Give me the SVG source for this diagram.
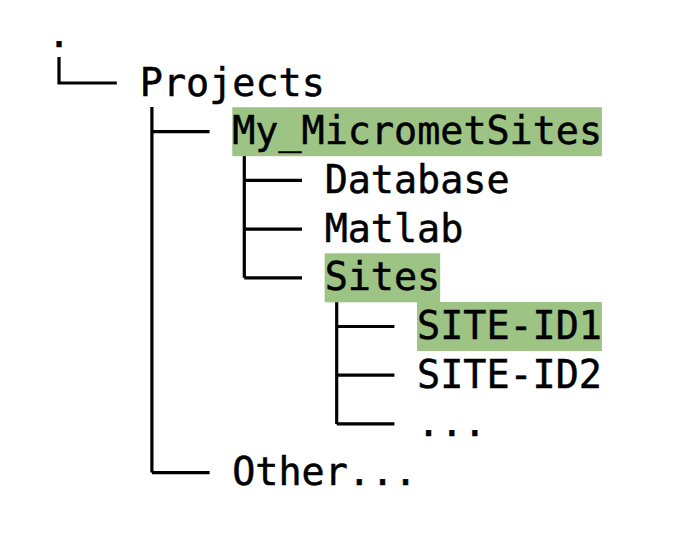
<svg xmlns="http://www.w3.org/2000/svg" width="686" height="558" viewBox="0 0 686 558">
<style>
.t{font-family:"DejaVu Sans Mono","Liberation Mono",monospace;font-size:38.4px;fill:#000;stroke:#000;stroke-width:0.5}
.hl{fill:#9DC385}
.c{stroke:#000;stroke-width:3.2;fill:none}
</style>
<rect width="686" height="558" fill="#fff"/>
<g id="connectors">
<path class="c" d="M59.0 57 V83 H116.8"/>
<path class="c" d="M151.9 107 V472.6 M151.9 131.7 H209.6 M151.9 472.6 H209.6"/>
<path class="c" d="M244.3 156 V277.8 M244.3 180.4 H302 M244.3 229.1 H302 M244.3 277.8 H302"/>
<path class="c" d="M336.7 302 V423.9 M336.7 326.5 H394.4 M336.7 375.2 H394.4 M336.7 423.9 H394.4"/>
</g>
<g id="root"><text class="t" x="47.45" y="46.8">.</text></g>
<g id="projects"><text class="t" x="139.85" y="95.5">Projects</text></g>
<g id="my-micromet-sites"><rect class="hl" x="232.25" y="107.2" width="369.6" height="49"/><text class="t" x="232.25" y="144.2">My_MicrometSites</text></g>
<g id="database"><text class="t" x="324.65" y="192.9">Database</text></g>
<g id="matlab"><text class="t" x="324.65" y="241.6">Matlab</text></g>
<g id="sites"><rect class="hl" x="324.65" y="253.3" width="115.5" height="49"/><text class="t" x="324.65" y="290.3">Sites</text></g>
<g id="site-id1"><rect class="hl" x="417.05" y="302" width="184.8" height="49"/><text class="t" x="417.05" y="339">SITE-ID1</text></g>
<g id="site-id2"><text class="t" x="417.05" y="387.7">SITE-ID2</text></g>
<g id="more"><text class="t" x="417.05" y="436.4">...</text></g>
<g id="other"><text class="t" x="232.25" y="485.1">Other...</text></g>
</svg>
